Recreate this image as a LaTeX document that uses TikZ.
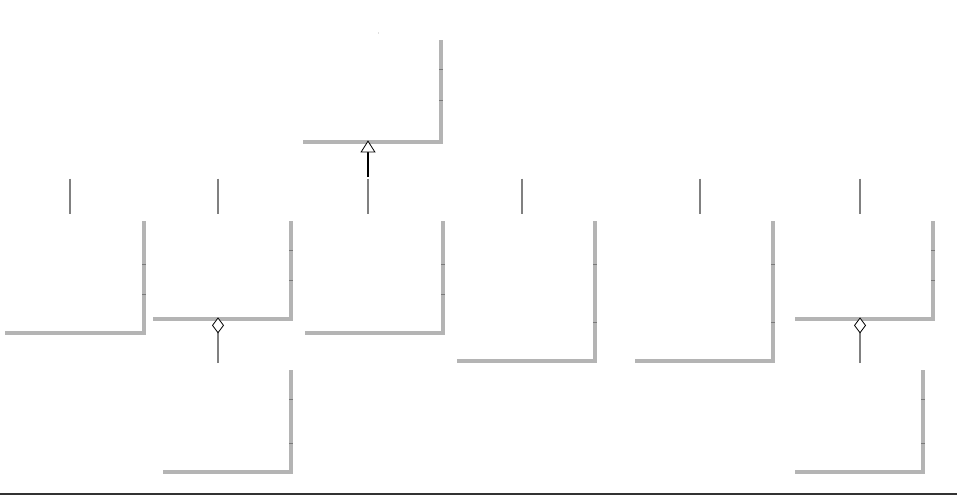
\documentclass[tikz,border=0pt]{standalone}
\usetikzlibrary{shadows,arrows.meta}
\definecolor{shgray}{HTML}{B4B4B4}
\definecolor{tickgray}{HTML}{7A7A7A}
\definecolor{linkgray}{HTML}{808080}
\definecolor{rulegray}{HTML}{333333}
\tikzset{
  cls/.style={rectangle, fill=white, draw=none, inner sep=0pt, anchor=north west,
    drop shadow={shadow xshift=3.5pt, shadow yshift=-3.5pt, fill=shgray, opacity=1}},
  sep/.style={draw=tickgray, line width=0.8pt},
  childlink/.style={draw=linkgray, line width=1.4pt},
  inh/.style={draw=black, line width=1.3pt,
    -{Triangle[fill=white, color=black, line width=0.8pt, length=12pt, width=15pt]}},
  agg/.style={draw=linkgray, line width=1.4pt, shorten <=3pt,
    -{Diamond[fill=white, color=black, line width=0.8pt, length=16pt, width=12pt]}},
}
\begin{document}
\begin{tikzpicture}[x=1pt, y=-1pt]
\useasboundingbox (0,0) rectangle (957,495);

% class boxes (white body, grey drop shadow)
\node[cls, minimum width=140pt, minimum height=104pt] (bT)  at (299,36)  {};
\node[cls, minimum width=141pt, minimum height=114pt] (b1)  at (1,217)   {};
\node[cls, minimum width=140pt, minimum height=100pt] (b2)  at (149,217) {};
\node[cls, minimum width=130pt, minimum height=104pt] (b2a) at (159,366) {};
\node[cls, minimum width=140pt, minimum height=114pt] (b3)  at (301,217) {};
\node[cls, minimum width=140pt, minimum height=142pt] (b4)  at (453,217) {};
\node[cls, minimum width=140pt, minimum height=142pt] (b5)  at (631,217) {};
\node[cls, minimum width=140pt, minimum height=100pt] (b6)  at (791,217) {};
\node[cls, minimum width=130pt, minimum height=104pt] (b6a) at (791,366) {};

% compartment separators showing through the shadow
\foreach \b/\ya/\yb in {bT/33/64, b1/47/77, b2/33/63, b2a/33/77, b3/47/77,
                        b4/47/105, b5/47/105, b6/33/63, b6a/33/77}{
  \draw[sep] ([yshift=-\ya pt]\b.north east) -- ++(3.5,0);
  \draw[sep] ([yshift=-\yb pt]\b.north east) -- ++(3.5,0);
}

% junction points of the generalisation tree
\coordinate (jT) at (368,177);
\coordinate (j1) at (70,178.5);
\coordinate (j2) at (218,178.5);
\coordinate (j3) at (368,178.5);
\coordinate (j4) at (522,178.5);
\coordinate (j5) at (700,178.5);
\coordinate (j6) at (860,178.5);

% child links up to the tree
\foreach \j/\b in {j1/b1, j2/b2, j3/b3, j4/b4, j5/b5, j6/b6}{
  \draw[childlink, shorten >=3pt] (\j) -- (\j |- \b.north);
}

% generalisation arrow into the parent
\draw[inh] (jT) -- (jT |- bT.south);

% aggregations
\draw[agg] (j2 |- b2a.north) -- (j2 |- b2.south);
\draw[agg] (j6 |- b6a.north) -- (j6 |- b6.south);

% faint mark above the parent class
\fill[black!12] (377.5,32.5) rectangle (379,34);

% bottom rule
\coordinate (rl) at (0,494);
\coordinate (rr) at (957,494);
\draw[rulegray, line width=1.3pt] (rl) -- (rr);
\end{tikzpicture}
\end{document}
